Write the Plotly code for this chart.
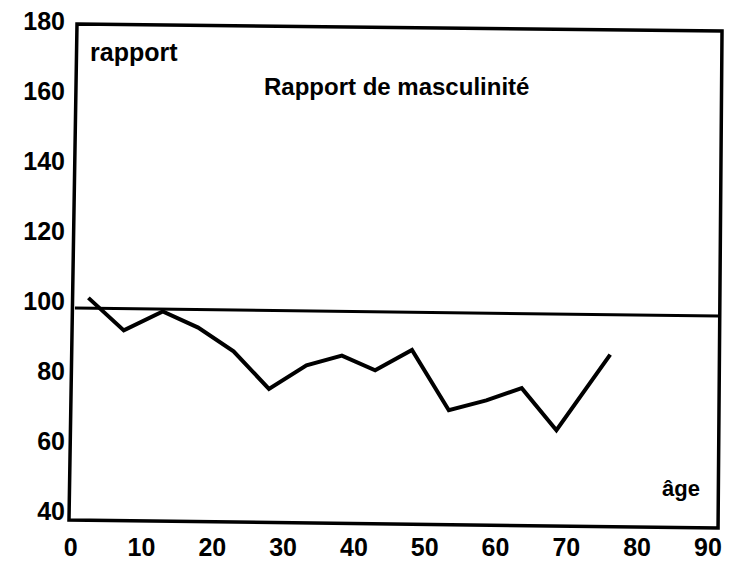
import plotly.graph_objects as go

# Data
ages = [2.5, 7.5, 13.0, 18.0, 23.0, 28.0, 33.3, 38.3, 43.0, 48.2, 53.4, 58.7, 63.7, 68.6, 76.2]
ratio = [100.9, 91.6, 97.0, 92.4, 85.6, 74.9, 81.6, 84.4, 80.2, 86.0, 68.8, 71.6, 75.1, 63.1, 84.7]

ref_x = [0.6, 91.5]
ref_y = [98.0, 95.7]

x_ticks = [0, 10, 20, 30, 40, 50, 60, 70, 80, 90]
y_ticks = [40, 60, 80, 100, 120, 140, 160, 180]

FONT = "Liberation Sans, Arial, sans-serif"

fig = go.Figure()

fig.add_trace(go.Scatter(x=ref_x, y=ref_y, mode="lines",
                         line=dict(color="black", width=3), hoverinfo="skip",
                         showlegend=False))
fig.add_trace(go.Scatter(x=ages, y=ratio, mode="lines",
                         line=dict(color="black", width=4), showlegend=False))

# slightly skewed frame (scanned page)
frame = "M 0.89 179.14 L 91.99 177.14 L 91.43 35.14 L -0.24 37.43 Z"
fig.add_shape(type="path", path=frame, xref="x", yref="y",
              line=dict(color="black", width=3.5))

fig.add_annotation(text="rapport", x=88, y=52, xref="paper", yref="paper",
                   showarrow=False, xanchor="left", yanchor="middle",
                   font=dict(family=FONT, size=25, color="black", weight="bold"))
fig.add_annotation(text="Rapport de masculinité", x=396, y=87, xref="paper", yref="paper",
                   showarrow=False, xanchor="center", yanchor="middle",
                   font=dict(family=FONT, size=24, color="black", weight="bold"))
fig.add_annotation(text="âge", x=681, y=488, xref="paper", yref="paper",
                   showarrow=False, xanchor="center", yanchor="middle",
                   font=dict(family=FONT, size=22, color="black", weight="bold"))

# convert pixel positions of annotations into paper coords
L, R, T, B = 66, 5, 20, 37
W, H = 729, 567
pw, ph = W - L - R, H - T - B
for a in fig.layout.annotations:
    a.x = (a.x - L) / pw
    a.y = 1 - (a.y - T) / ph

fig.update_layout(
    width=W, height=H,
    margin=dict(l=L, r=R, t=T, b=B),
    paper_bgcolor="white", plot_bgcolor="white",
    font=dict(family=FONT, size=25, color="black", weight="bold"),
    xaxis=dict(range=[-0.664, 92.27], tickvals=x_ticks, ticktext=[str(v) for v in x_ticks],
               showgrid=False, zeroline=False, showline=False, ticks="",
               tickfont=dict(size=25, weight="bold")),
    yaxis=dict(range=[34.57, 180.29], tickvals=y_ticks, ticktext=[str(v) for v in y_ticks],
               showgrid=False, zeroline=False, showline=False, ticks="",
               tickfont=dict(size=25, weight="bold")),
)

fig.write_html("out.html", config={"displayModeBar": False},
               post_script="document.body.style.margin='0';document.body.style.overflow='hidden';")
